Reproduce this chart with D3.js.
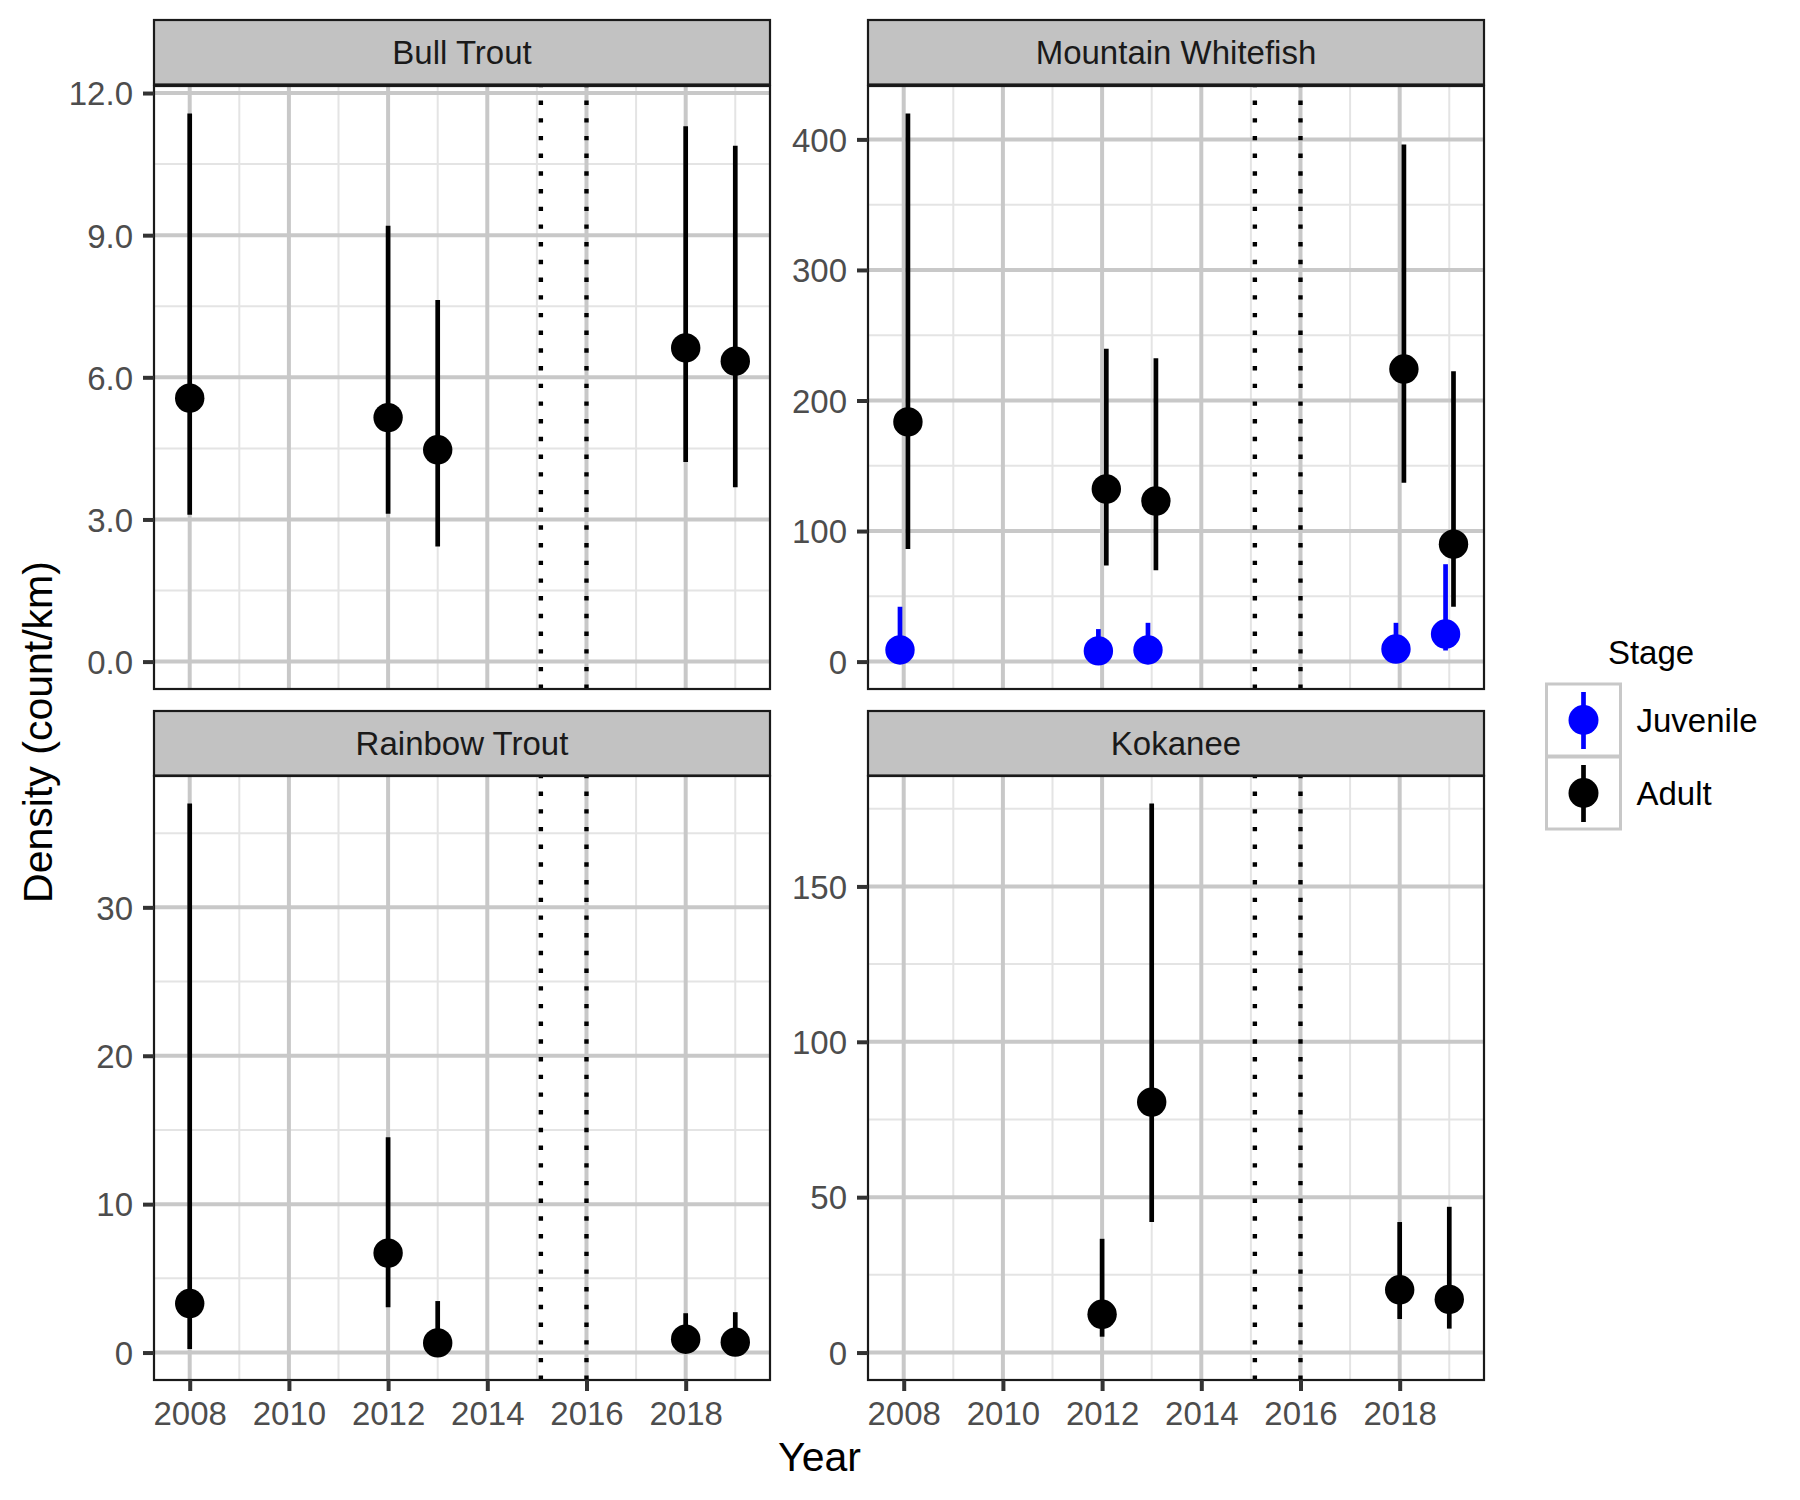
<!DOCTYPE html>
<html>
<head>
<meta charset="utf-8">
<script src="https://cdn.jsdelivr.net/npm/d3@7/dist/d3.min.js"></script>
<style>
  html, body { margin: 0; padding: 0; background: #fff; }
  svg { display: block; }
  text { font-family: "Liberation Sans", Arial, Helvetica, sans-serif; }
</style>
</head>
<body>
<svg id="chart" width="1800" height="1500"></svg>
<script>
// ---------------- data ----------------
const species = ["Bull Trout", "Mountain Whitefish", "Rainbow Trout", "Kokanee"];
const stages = ["Juvenile", "Adult"];
const stageColors = ["#0000FF", "#000000"];
const xTickYears = [2008, 2010, 2012, 2014, 2016, 2018];
const xMinorYears = [2009, 2011, 2013, 2015, 2017, 2019];
const refLines = [2015.08, 2016];

const surveyYears = [2008, 2012, 2013, 2018, 2019];
const kokaneeYears = [2012, 2013, 2018, 2019];

// Bull Trout (adult)
const bullEst = [5.56, 5.15, 4.47, 6.62, 6.34];
const bullLo  = [3.10, 3.12, 2.43, 4.21, 3.68];
const bullHi  = [11.57, 9.20, 7.63, 11.30, 10.89];

// Mountain Whitefish
const mwAdultEst = [183.6, 132.2, 123.0, 224.1, 89.9];
const mwAdultLo  = [86.2, 73.6, 69.9, 136.9, 42.0];
const mwAdultHi  = [419.9, 239.7, 232.3, 396.0, 222.4];
const mwJuvEst = [8.9, 8.2, 8.9, 9.6, 21.1];
const mwJuvLo  = [2.0, 3.0, 3.0, 3.0, 8.5];
const mwJuvHi  = [42.0, 24.9, 29.7, 29.7, 74.6];

// Rainbow Trout (adult)
const rbEst = [3.3, 6.7, 0.65, 0.9, 0.7];
const rbLo  = [0.24, 3.06, 0.1, 0.2, 0.1];
const rbHi  = [37.0, 14.5, 3.47, 2.65, 2.72];

// Kokanee (adult)
const kokEst = [12.3, 80.6, 20.2, 17.1];
const kokLo  = [5.1, 42.0, 10.8, 7.7];
const kokHi  = [36.6, 176.7, 42.0, 46.9];

// y tick values per panel
const bullTicks = [0, 3, 6, 9, 12];
const mwTicks = [0, 100, 200, 300, 400];
const rbTicks = [0, 10, 20, 30];
const kokTicks = [0, 50, 100, 150];

// ---------------- build series ----------------
function rows(yrs, est, lo, hi, stage) {
  return yrs.map((y, i) => ({year: y, est: est[i], lo: lo[i], hi: hi[i], stage}));
}
const panelData = [
  {name: species[0], dodge: false, ticks: bullTicks, fmt: d3.format(".1f"),
   rows: rows(surveyYears, bullEst, bullLo, bullHi, "Adult")},
  {name: species[1], dodge: true, ticks: mwTicks, fmt: d3.format("d"),
   rows: rows(surveyYears, mwJuvEst, mwJuvLo, mwJuvHi, "Juvenile")
          .concat(rows(surveyYears, mwAdultEst, mwAdultLo, mwAdultHi, "Adult"))},
  {name: species[2], dodge: false, ticks: rbTicks, fmt: d3.format("d"),
   rows: rows(surveyYears, rbEst, rbLo, rbHi, "Adult")},
  {name: species[3], dodge: false, ticks: kokTicks, fmt: d3.format("d"),
   rows: rows(kokaneeYears, kokEst, kokLo, kokHi, "Adult")}
];

// ---------------- layout ----------------
const svg = d3.select("#chart");
const colLeft = [154, 868];
const panelW = 616;
const stripTop = [20, 711];
const stripH = 64.5;
const plotTop = [86, 776];
const plotBottom = [689, 1380];

const color = d3.scaleOrdinal().domain(stages).range(stageColors);
const dodgeOffset = {Juvenile: -0.075, Adult: 0.085};

const gridMajor = "#C8C8C8", gridMinor = "#E4E4E4";
const tickColor = "#333333", labelColor = "#4D4D4D";

panelData.forEach((p, idx) => {
  const col = idx % 2, row = Math.floor(idx / 2);
  const left = colLeft[col], right = left + panelW;
  const top = plotTop[row], bottom = plotBottom[row];

  const x = d3.scaleLinear().domain([2007.28, 2019.70]).range([left, right]);
  const maxHi = d3.max(p.rows, d => d.hi);
  const y = d3.scaleLinear().domain([-0.05 * maxHi, 1.05 * maxHi]).range([bottom, top]);

  const g = svg.append("g");
  g.append("rect").attr("x", left).attr("y", top).attr("width", panelW).attr("height", bottom - top)
    .attr("fill", "#fff");

  // minor grid
  const step = p.ticks[1] - p.ticks[0];
  const yMinor = d3.range(p.ticks[0] + step / 2, y.domain()[1], step);
  g.selectAll(".ymin").data(yMinor).enter().append("line")
    .attr("x1", left).attr("x2", right).attr("y1", d => y(d)).attr("y2", d => y(d))
    .attr("stroke", gridMinor).attr("stroke-width", 2);
  g.selectAll(".xmin").data(xMinorYears).enter().append("line")
    .attr("x1", d => x(d)).attr("x2", d => x(d)).attr("y1", top).attr("y2", bottom)
    .attr("stroke", gridMinor).attr("stroke-width", 2);
  // major grid
  g.selectAll(".ymaj").data(p.ticks).enter().append("line")
    .attr("x1", left).attr("x2", right).attr("y1", d => y(d)).attr("y2", d => y(d))
    .attr("stroke", gridMajor).attr("stroke-width", 4);
  g.selectAll(".xmaj").data(xTickYears).enter().append("line")
    .attr("x1", d => x(d)).attr("x2", d => x(d)).attr("y1", top).attr("y2", bottom)
    .attr("stroke", gridMajor).attr("stroke-width", 4);

  // reference dotted lines
  g.selectAll(".ref").data(refLines).enter().append("line")
    .attr("x1", d => x(d)).attr("x2", d => x(d)).attr("y1", bottom).attr("y2", top)
    .attr("stroke", "#000").attr("stroke-width", 4.4)
    .attr("stroke-dasharray", "4.4,13.3");

  // point ranges
  const px = d => x(d.year + (p.dodge ? dodgeOffset[d.stage] : 0));
  g.selectAll(".rng").data(p.rows).enter().append("line")
    .attr("x1", px).attr("x2", px).attr("y1", d => y(d.lo)).attr("y2", d => y(d.hi))
    .attr("stroke", d => color(d.stage)).attr("stroke-width", 4.7);
  g.selectAll(".pt").data(p.rows).enter().append("circle")
    .attr("cx", px).attr("cy", d => y(d.est)).attr("r", 14.7)
    .attr("fill", d => color(d.stage));

  // panel border
  g.append("rect").attr("x", left).attr("y", top).attr("width", panelW).attr("height", bottom - top)
    .attr("fill", "none").attr("stroke", "#1A1A1A").attr("stroke-width", 2.2);

  // strip
  g.append("rect").attr("x", left).attr("y", stripTop[row]).attr("width", panelW).attr("height", stripH)
    .attr("fill", "#C2C2C2").attr("stroke", "#1A1A1A").attr("stroke-width", 2.2);
  g.append("text").attr("x", left + panelW / 2).attr("y", stripTop[row] + stripH / 2 + 11.8)
    .attr("text-anchor", "middle").attr("font-size", 33).attr("fill", "#1A1A1A").text(p.name);

  // y axis
  const yAxis = d3.axisLeft(y).tickValues(p.ticks).tickFormat(p.fmt).tickSize(11).tickPadding(10);
  const ya = g.append("g").attr("transform", `translate(${left},0)`).call(yAxis);
  ya.select(".domain").remove();
  ya.selectAll(".tick line").attr("stroke", tickColor).attr("stroke-width", 4);
  ya.selectAll(".tick text").attr("font-size", 33).attr("fill", labelColor)
    .attr("font-family", "Liberation Sans, Arial, sans-serif").attr("dy", "0.358em");

  // x axis only on bottom row
  if (row === 1) {
    const xAxis = d3.axisBottom(x).tickValues(xTickYears).tickFormat(d3.format("d")).tickSize(11).tickPadding(10);
    const xa = g.append("g").attr("transform", `translate(0,${bottom})`).call(xAxis);
    xa.select(".domain").remove();
    xa.selectAll(".tick line").attr("stroke", tickColor).attr("stroke-width", 4);
    xa.selectAll(".tick text").attr("font-size", 33).attr("fill", labelColor)
      .attr("font-family", "Liberation Sans, Arial, sans-serif").attr("dy", null).attr("y", 44.5);
  }
});

// axis titles
svg.append("text").attr("x", 819.5).attr("y", 1470.7).attr("text-anchor", "middle")
  .attr("font-size", 41).attr("fill", "#000").text("Year");
svg.append("text").attr("transform", "translate(52.4,732) rotate(-90)").attr("text-anchor", "middle")
  .attr("font-size", 41).attr("fill", "#000").text("Density (count/km)");

// legend
const lg = svg.append("g");
lg.append("text").attr("x", 1651).attr("y", 664).attr("text-anchor", "middle")
  .attr("font-size", 33).attr("fill", "#000").text("Stage");
const keyTop = [684, 757];
stages.forEach((s, i) => {
  const ky = keyTop[i];
  lg.append("rect").attr("x", 1546.5).attr("y", ky).attr("width", 74).attr("height", 72)
    .attr("fill", "#fff").attr("stroke", "#C8C8C8").attr("stroke-width", 3);
  const cy = ky + 36;
  lg.append("line").attr("x1", 1583.5).attr("x2", 1583.5).attr("y1", cy - 28).attr("y2", cy + 29)
    .attr("stroke", color(s)).attr("stroke-width", 4.7);
  lg.append("circle").attr("cx", 1583.5).attr("cy", cy).attr("r", 15).attr("fill", color(s));
  lg.append("text").attr("x", 1636.5).attr("y", cy + 11.8).attr("font-size", 33).attr("fill", "#000").text(s);
});
</script>
</body>
</html>
